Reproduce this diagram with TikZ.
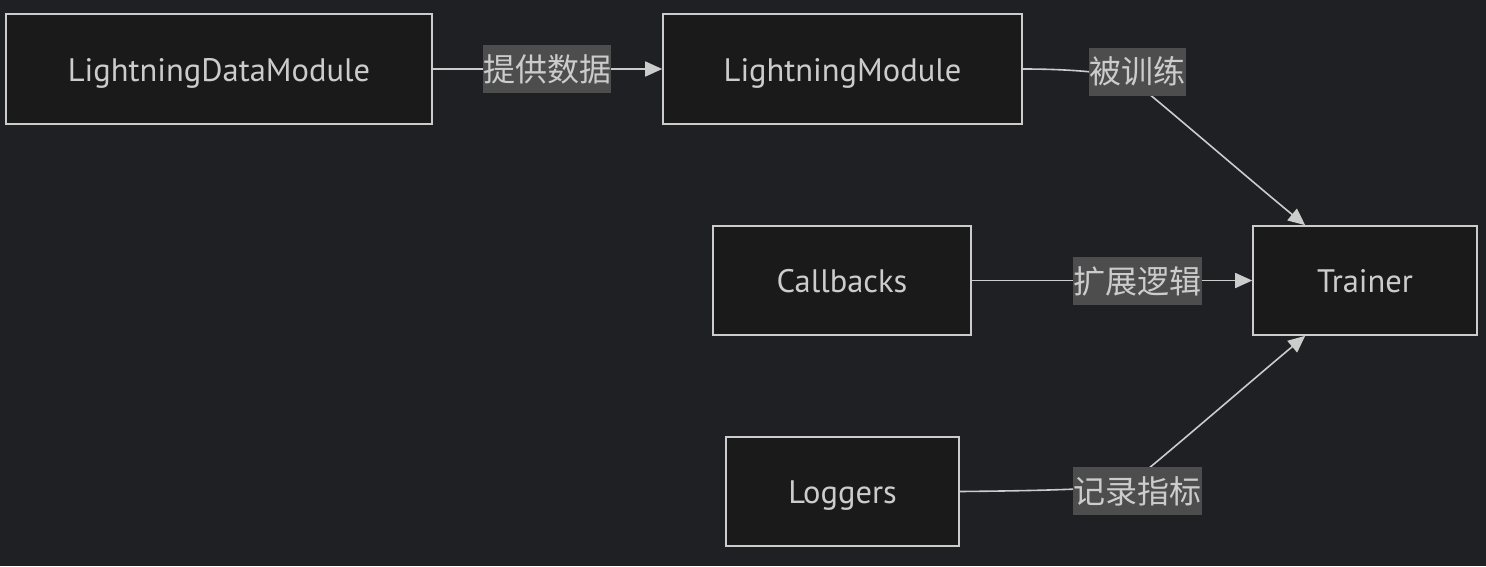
\documentclass[tikz,border=0pt]{standalone}
\usepackage{fontspec}
\setmainfont{PT Sans}
\newfontfamily\cjk{Noto Sans CJK SC}
\usetikzlibrary{arrows.meta,calc}
\definecolor{bgc}{HTML}{1F2023}
\definecolor{nodefill}{HTML}{1A1A1A}
\definecolor{linec}{HTML}{CCCCCC}
\definecolor{txtc}{HTML}{CCCCCC}
\definecolor{lblfill}{HTML}{4D4D4D}
\tikzset{
  box/.style={draw=linec, fill=nodefill, line width=1.6pt, inner sep=0pt,
    text height=24pt, text depth=0pt,
    text=txtc, font=\fontsize{32.5}{38}\selectfont},
  elabel/.style={fill=lblfill, inner sep=0pt, text=txtc,
    minimum height=48pt, font=\cjk\fontsize{32}{36}\selectfont},
  edge/.style={draw=linec, line width=1.6pt,
    -{Triangle[length=17pt,width=15pt]}},
}
\begin{document}
\begin{tikzpicture}[x=1pt,y=-1pt]
\fill[bgc] (0,0) rectangle (1486,566);
\useasboundingbox (0,0) rectangle (1486,566);
\node[box, minimum width=426pt, minimum height=110pt] (dm) at (219,69) {LightningDataModule};
\node[box, minimum width=359pt, minimum height=110pt] (lm) at (842.5,69) {LightningModule};
\node[box, minimum width=258pt, minimum height=109pt] (cb) at (842,280.5) {Callbacks};
\node[box, minimum width=224pt, minimum height=109pt] (tr) at (1365,280.5) {Trainer};
\node[box, minimum width=233pt, minimum height=109pt] (lg) at (842.5,491.5) {Loggers};
\coordinate (trtop) at ($(tr.north west)+(53,0)$);
\coordinate (trbot) at ($(tr.south west)+(53,0)$);
% edges
\draw[edge] (dm.east) -- (lm.west);
\draw[edge] (lm.east) .. controls (1060,69) and (1095,71) .. (1128,77)
  .. controls (1146,90) and (1250,180) .. (trtop);
\draw[edge] (cb.east) -- (tr.west);
\draw[edge] (lg.east) .. controls (1010,491) and (1095,490) .. (1128,485)
  .. controls (1146,472) and (1250,382) .. (trbot);
% labels
\node[elabel, minimum width=128pt] (l1) at (547,69) {提供数据};
\node[elabel, minimum width=97pt] (l2) at (1137.5,71.5) {被训练};
\node[elabel, minimum width=129pt] (l3) at (1137.5,281) {扩展逻辑};
\node[elabel, minimum width=129pt] (l4) at (1137.5,491) {记录指标};
\end{tikzpicture}
\end{document}
